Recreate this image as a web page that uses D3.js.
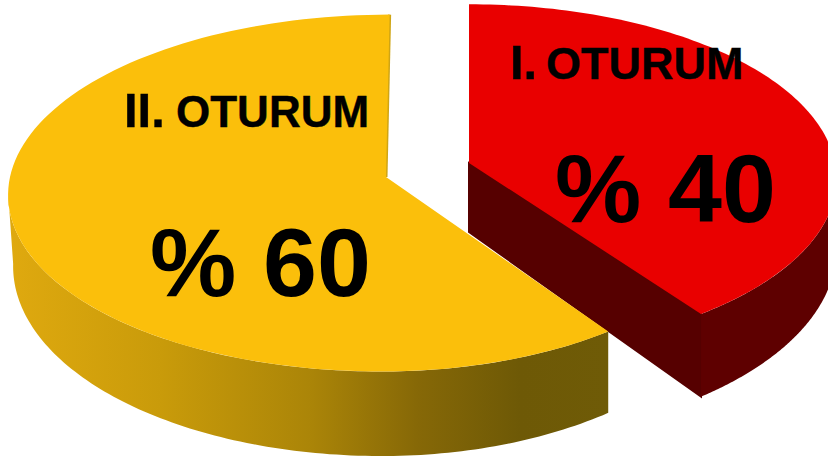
<!DOCTYPE html>
<html>
<head>
<meta charset="utf-8">
<script src="https://d3js.org/d3.v7.min.js"></script>
<style>
  html, body { margin: 0; padding: 0; background: #fff; overflow: hidden; }
  text { font-family: "Liberation Sans", Arial, sans-serif; font-weight: bold; fill: #000; }
  text.name { stroke: #000; stroke-width: 0.4; }
</style>
</head>
<body>
<div id="chart-area"></div>
<script>
var categories = ["I.", "II."];
var sessionWord = ["OTURUM", "OTURUM"];
var shares = [40, 60];

var width = 828;
var height = 458;
var toRad = Math.PI / 180;
var tilt = 0.09;

// vx: vanishing point of the slice, edge: angle where the side of the disc turns away
var geometry = [
  {vx: 469, cx: 469, cy: 163, rxLeft: 366, rxRight: 366, rxLeftBottom: 366, ry: 173,
   depth: 69, depthPow: 2.4, edge: 100,
   top: "#e90000", wall: "#5e0000", cut: "#560000"},
  {vx: 430, cx: 386, cy: 177, rxLeft: 376, rxRight: 356, rxLeftBottom: 371, ry: 177,
   depth: 70, depthPow: 2, edge: 265,
   top: "#fbbf0b", wall: "url(#yellow-wall)", cut: null}
];

var labelStyle = [
  {head: [510, 79, 49], word: [546, 79, 45], pct: [776, 222, 97]},
  {head: [124, 127, 49], word: [176, 127, 44], pct: [371, 296, 97]}
];

var svg = d3.select("#chart-area")
  .append("svg")
  .attr("width", width)
  .attr("height", height);

var grad = svg.append("defs").append("linearGradient")
  .attr("id", "yellow-wall")
  .attr("gradientUnits", "userSpaceOnUse")
  .attr("x1", 10).attr("x2", 610).attr("y1", 0).attr("y2", 0);

grad.selectAll("stop")
  .data([[0, "#dfa90f"], [0.25, "#c99b0a"], [0.5, "#ab8508"], [0.68, "#866807"], [0.85, "#6e5906"], [1, "#6f5b07"]])
  .enter().append("stop")
  .attr("offset", (d) => d[0])
  .attr("stop-color", (d) => d[1]);

var pie = d3.pie().sort(null).value((d) => d);
var arcs = pie(shares);

var line = d3.line().curve(d3.curveLinear);

// disc position to screen, z = 0 on the top face and 1 on the bottom
function project(g, angle, r, z) {
  var a = Math.sin(angle) * r;
  var v = -Math.cos(angle) * r;
  var s = 1 / (1 - tilt * v);
  var rx = a < 0 ? g.rxLeft + (g.rxLeftBottom - g.rxLeft) * z : g.rxRight;
  var x = g.vx + (g.cx - g.vx + a * rx) * s;
  var y = g.cy + v * g.ry * s + z * g.depth * Math.pow(s, g.depthPow);
  return [x, y];
}

function sweep(g, a0, a1, z) {
  var n = 120;
  return d3.range(n + 1).map((i) => project(g, a0 + (a1 - a0) * i / n, 1, z));
}

arcs.forEach((d, i) => {
  var g = geometry[i];
  var group = svg.append("g").attr("class", "slice");

  // straight cut wall of the red slice, the yellow one turns it away from us
  if (g.cut) {
    group.append("path")
      .attr("d", line([
        project(g, d.endAngle, 0, 0), project(g, d.endAngle, 1, 0),
        project(g, d.endAngle, 1, 1), project(g, d.endAngle, 0, 1)
      ]) + "Z")
      .attr("fill", g.cut)
      .attr("stroke", g.cut)
      .attr("stroke-width", 2);
  }

  // curved outer wall
  var wallFrom = i === 0 ? g.edge * toRad : d.startAngle;
  var wallTo = i === 0 ? d.endAngle : g.edge * toRad;
  var top = sweep(g, wallFrom, wallTo, 0);
  var bottom = sweep(g, wallFrom, wallTo, 1).reverse();
  group.append("path")
    .attr("d", line(top.concat(bottom)) + "Z")
    .attr("fill", g.wall);

  // thin shaded edge along the yellow back cut
  if (i === 1) {
    group.append("path")
      .attr("d", line([project(g, d.endAngle, 0, 0), project(g, d.endAngle, 1, 0)]))
      .attr("stroke", "#cfa514")
      .attr("stroke-width", 3)
      .attr("fill", "none");
  }

  group.append("path")
    .attr("d", line([project(g, 0, 0, 0)].concat(sweep(g, d.startAngle, d.endAngle, 0))) + "Z")
    .attr("fill", g.top);

  var st = labelStyle[i];
  group.append("text").attr("class", "name").attr("x", st.head[0]).attr("y", st.head[1]).attr("font-size", st.head[2]).text(categories[i]);
  group.append("text").attr("class", "name").attr("x", st.word[0]).attr("y", st.word[1]).attr("font-size", st.word[2]).text(sessionWord[i]);
  group.append("text").attr("x", st.pct[0]).attr("y", st.pct[1]).attr("font-size", st.pct[2])
    .attr("text-anchor", "end").text("% " + shares[i]);
});
</script>
</body>
</html>
